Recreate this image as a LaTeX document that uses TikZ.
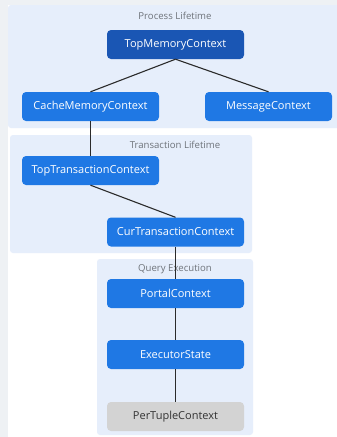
\documentclass[tikz,border=0pt]{standalone}
\usepackage{fontspec}
\setmainfont{Open Sans}
\definecolor{pagebg}{HTML}{FFFFFF}
\definecolor{stripbg}{HTML}{EEF1F4}
\definecolor{groupbg}{HTML}{E6EEFB}
\definecolor{darkblue}{HTML}{1A56B4}
\definecolor{midblue}{HTML}{1F78E4}
\definecolor{tuplegray}{HTML}{D3D3D3}
\definecolor{titlegray}{HTML}{6E737A}
\definecolor{edgecol}{HTML}{2B2B2B}
\tikzset{
  group/.style={fill=groupbg, draw=none, rounded corners=3pt},
  grouptitle/.style={text=titlegray, font=\fontsize{9.6}{11}\selectfont, inner sep=0pt},
  ctx/.style={fill=midblue, text=white, rounded corners=4pt, minimum width=137pt,
    minimum height=29pt, inner sep=0pt, font=\fontsize{11}{13}\selectfont},
  topctx/.style={ctx, fill=darkblue},
  leafctx/.style={ctx, fill=tuplegray, text=black!80},
  link/.style={draw=edgecol, line width=1.1pt},
}
\begin{document}
\begin{tikzpicture}[x=1pt,y=-1pt]
  % canvas
  \fill[pagebg] (0,0) rectangle (337,437);
  \fill[stripbg] (0,0) rectangle (8,437);
  \fill[stripbg] (0,0) rectangle (337,5);
  \useasboundingbox (0,0) rectangle (337,437);

  % lifetime groups
  \fill[group] (8,5) rectangle (345,128);
  \fill[group] (10,135) rectangle (252,253);
  \fill[group] (97,259) rectangle (253,435);

  \node[grouptitle] (tprocess) at (175,16) {Process Lifetime};
  \node[grouptitle] (ttrans) at (175,145) {Transaction Lifetime};
  \node[grouptitle] (tquery) at (175,269) {Query Execution};

  % contexts
  \node[topctx] (top) at (175.5,44.5) {TopMemoryContext};
  \node[ctx] (cache) at (90.5,106.5) {CacheMemoryContext};
  \node[ctx, minimum width=127pt] (msg) at (268.5,106.5) {MessageContext};
  \node[ctx] (toptx) at (90.5,170.5) {TopTransactionContext};
  \node[ctx] (curtx) at (175.5,232) {CurTransactionContext};
  \node[ctx] (portal) at (175.5,293.5) {PortalContext};
  \node[ctx] (exec) at (175.5,354.5) {ExecutorState};
  \node[leafctx] (tuple) at (175.5,416.5) {PerTupleContext};

  % parent-child links
  \draw[link] (top.south) -- (cache.north);
  \draw[link] (top.south) -- (msg.north);
  \draw[link] (cache.south) -- (toptx.north);
  \draw[link] (toptx.south) -- (curtx.north);
  \draw[link] (curtx.south) -- (portal.north);
  \draw[link] (portal.south) -- (exec.north);
  \draw[link] (exec.south) -- (tuple.north);
\end{tikzpicture}
\end{document}
